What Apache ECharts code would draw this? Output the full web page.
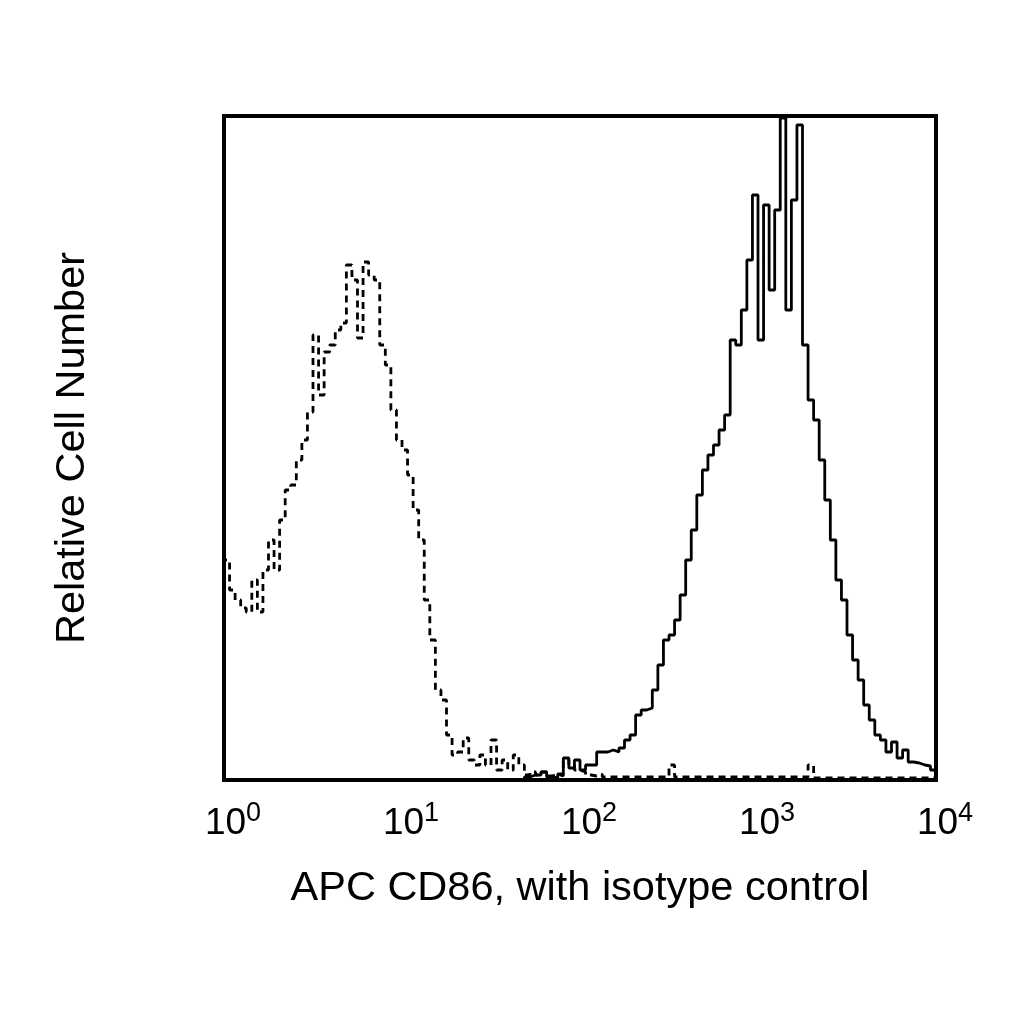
<!DOCTYPE html>
<html lang="en">
<head>
    <meta charset="UTF-8">
    <title>APC CD86 histogram</title>
    <script src="https://cdn.jsdelivr.net/npm/echarts@6/dist/echarts.min.js"></script>
    <style>
        html, body { margin: 0; padding: 0; background: #fff; }
    </style>
</head>
<body>
<div id="histDemo" style="width: 1024px;height: 1024px"></div>

<script>
    // 128 channels over 4 decades (32 per decade), counts
    var binsPerDecade = 32;
    var tickExps = [0, 1, 2, 3, 4];

    // isotype control (dashed)
    var isoCounts = [
        220, 190, 180, 172, 168, 200, 168, 210, 240, 210, 260, 290, 295, 320, 340, 368,
        445, 385, 428, 435, 450, 457, 515, 500, 442, 518, 505, 500, 435, 415, 370, 340,
        330, 305, 270, 240, 180, 140, 90, 80, 45, 25, 28, 42, 20, 15, 25, 15,
        40, 10, 20, 10, 25, 15, 5, 8, 5, 8, 4, 6, 4, 20, 15, 10,
        8, 5, 4, 6, 3, 3, 3, 3, 3, 3, 3, 3, 3, 3, 3, 3,
        15, 3, 3, 3, 3, 3, 3, 3, 3, 3, 3, 3, 3, 3, 3, 3,
        3, 3, 3, 3, 3, 3, 3, 3, 3, 15, 2, 2, 2, 2, 2, 2,
        2, 2, 2, 2, 2, 2, 2, 2, 2, 2, 2, 2, 2, 2, 2, 2
    ];

    // APC CD86 (solid)
    var cd86Counts = [
        0, 0, 0, 0, 0, 0, 0, 0, 0, 0, 0, 0, 0, 0, 0, 0,
        0, 0, 0, 0, 0, 0, 0, 0, 0, 0, 0, 0, 0, 0, 0, 0,
        0, 0, 0, 0, 0, 0, 0, 0, 0, 0, 0, 0, 0, 0, 0, 0,
        0, 0, 0, 0, 0, 0, 3, 5, 5, 8, 3, 2, 6, 22, 12, 20,
        10, 15, 15, 28, 28, 30, 28, 32, 40, 45, 65, 70, 72, 90, 115, 140,
        145, 160, 185, 220, 250, 285, 310, 325, 335, 350, 365, 440, 435, 470, 520, 585,
        440, 575, 490, 570, 662, 470, 580, 655, 435, 380, 360, 320, 280, 240, 200, 180,
        145, 120, 100, 75, 60, 45, 40, 28, 38, 22, 30, 18, 17, 15, 14, 10
    ];

    function toSteps(counts) {
        var pts = [[1, 0]];
        for (var k = 0; k < counts.length; k++) {
            pts.push([Math.pow(10, k / binsPerDecade), counts[k]]);
        }
        pts.push([Math.pow(10, tickExps[tickExps.length - 1]), counts[counts.length - 1]]);
        return pts;
    }

    var chartDom = document.getElementById('histDemo');
    var myChart = echarts.init(chartDom);
    var font = 'Liberation Sans, Arial, sans-serif';

    var option = {
        animation: false,
        backgroundColor: '#fff',
        grid: {
            left: 224, right: 88, top: 116, bottom: 244,
            show: true,
            borderColor: '#000',
            borderWidth: 4
        },
        xAxis: {
            type: 'log',
            logBase: 10,
            min: 1,
            max: 10000,
            interval: 1,
            name: 'APC CD86, with isotype control',
            nameLocation: 'middle',
            nameGap: 88,
            nameTextStyle: { fontFamily: font, fontSize: 41.5, color: '#000' },
            axisLine: { show: false },
            axisTick: { show: false },
            splitLine: { show: false },
            axisLabel: {
                margin: 20,
                padding: [0, 0, 0, 18],
                showMinLabel: true,
                showMaxLabel: true,
                formatter: function (v) {
                    return '{b|10}{s|' + Math.round(Math.log10(v)) + '}';
                },
                rich: {
                    b: { fontFamily: font, fontSize: 37, color: '#000' },
                    s: { fontFamily: font, fontSize: 27, color: '#000', padding: [0, 0, 20, 0] }
                }
            }
        },
        yAxis: {
            type: 'value',
            min: 0,
            max: 664,
            name: 'Relative Cell Number',
            nameLocation: 'middle',
            nameGap: 130,
            nameTextStyle: { fontFamily: font, fontSize: 41.5, color: '#000' },
            axisLine: { show: false },
            axisTick: { show: false },
            axisLabel: { show: false },
            splitLine: { show: false }
        },
        series: [
            {
                name: 'APC CD86',
                type: 'line',
                step: 'end',
                symbol: 'none',
                clip: true,
                lineStyle: { color: '#000', width: 2.8 },
                data: toSteps(cd86Counts)
            },
            {
                name: 'isotype control',
                type: 'line',
                step: 'end',
                symbol: 'none',
                clip: true,
                lineStyle: { color: '#000', width: 2.8, type: [7, 5] },
                data: toSteps(isoCounts)
            }
        ]
    };

    option && myChart.setOption(option);
</script>
</body>
</html>
